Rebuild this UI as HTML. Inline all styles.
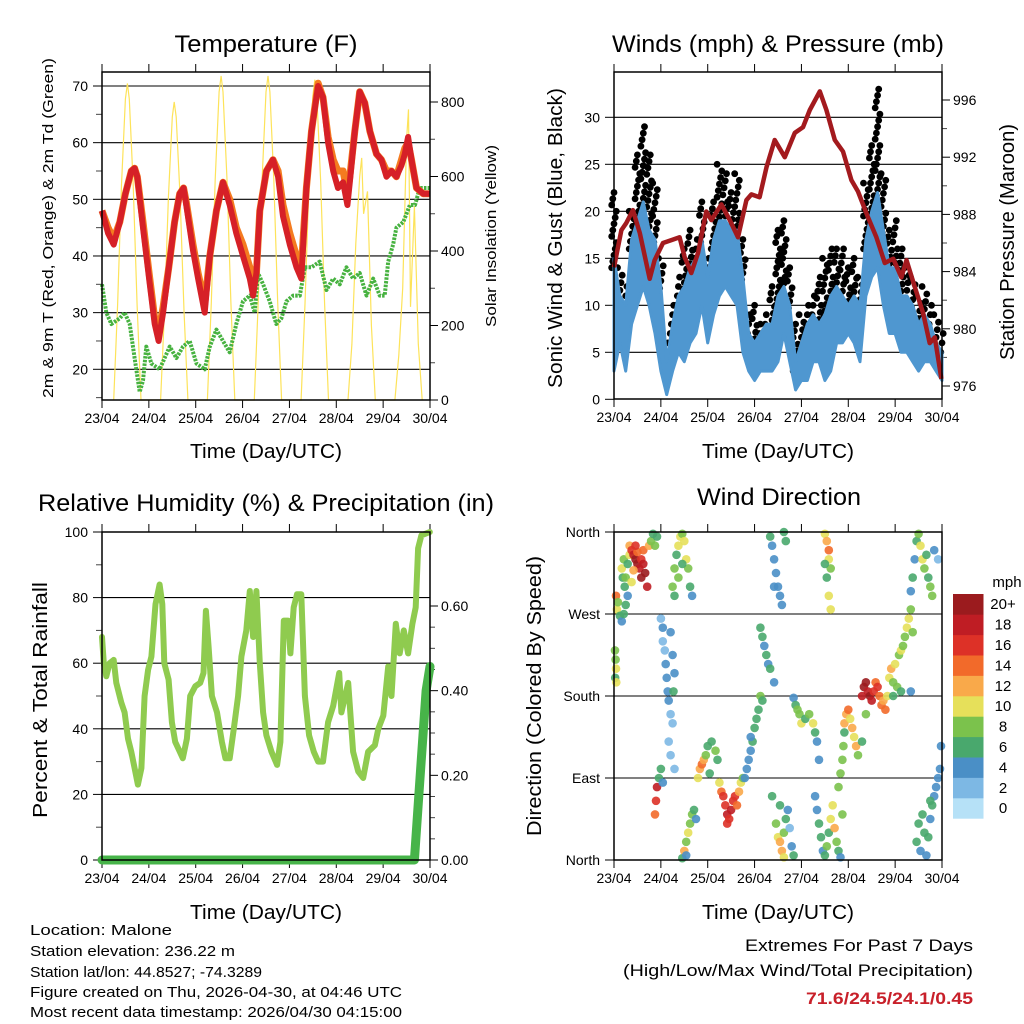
<!DOCTYPE html>
<html><head><meta charset="utf-8"><title>Malone station charts</title>
<style>
html,body{margin:0;padding:0;background:#fff;}
svg{display:block;font-family:"Liberation Sans",Arial,sans-serif;}
</style></head>
<body>
<svg id="root" xmlns="http://www.w3.org/2000/svg" width="1024" height="1024" viewBox="0 0 1024 1024">
<rect x="0" y="0" width="1024" height="1024" fill="#fff"/>
<!-- titles -->
<text x="266" y="52" font-size="24" text-anchor="middle" textLength="183" lengthAdjust="spacingAndGlyphs">Temperature (F)</text>
<text x="778" y="52" font-size="24" text-anchor="middle" textLength="332" lengthAdjust="spacingAndGlyphs">Winds (mph) &amp; Pressure (mb)</text>
<text x="266" y="511" font-size="24" text-anchor="middle" textLength="456" lengthAdjust="spacingAndGlyphs">Relative Humidity (%) &amp; Precipitation (in)</text>
<text x="779" y="505" font-size="24" text-anchor="middle" textLength="164" lengthAdjust="spacingAndGlyphs">Wind Direction</text>
<!-- x axis titles -->
<text x="266" y="458" font-size="20" text-anchor="middle" textLength="152" lengthAdjust="spacingAndGlyphs">Time (Day/UTC)</text>
<text x="778" y="458" font-size="20" text-anchor="middle" textLength="152" lengthAdjust="spacingAndGlyphs">Time (Day/UTC)</text>
<text x="266" y="919" font-size="20" text-anchor="middle" textLength="152" lengthAdjust="spacingAndGlyphs">Time (Day/UTC)</text>
<text x="778" y="919" font-size="20" text-anchor="middle" textLength="152" lengthAdjust="spacingAndGlyphs">Time (Day/UTC)</text>
<!-- y axis titles -->
<text transform="translate(53,228) rotate(-90)" font-size="15" text-anchor="middle" textLength="340" lengthAdjust="spacingAndGlyphs">2m &amp; 9m T (Red, Orange) &amp; 2m Td (Green)</text>
<text transform="translate(496,236) rotate(-90)" font-size="15" text-anchor="middle" textLength="182" lengthAdjust="spacingAndGlyphs">Solar Insolation (Yellow)</text>
<text transform="translate(562,238) rotate(-90)" font-size="20" text-anchor="middle" textLength="300" lengthAdjust="spacingAndGlyphs">Sonic Wind &amp; Gust (Blue, Black)</text>
<text transform="translate(1014,242) rotate(-90)" font-size="20" text-anchor="middle" textLength="236" lengthAdjust="spacingAndGlyphs">Station Pressure (Maroon)</text>
<text transform="translate(47,700) rotate(-90)" font-size="20" text-anchor="middle" textLength="236" lengthAdjust="spacingAndGlyphs">Percent &amp; Total Rainfall</text>
<text transform="translate(541,696) rotate(-90)" font-size="20" text-anchor="middle" textLength="280" lengthAdjust="spacingAndGlyphs">Direction (Colored By Speed)</text>
<!-- footer -->
<g font-size="15">
<text x="30" y="935" textLength="142" lengthAdjust="spacingAndGlyphs">Location: Malone</text>
<text x="30" y="956" textLength="205" lengthAdjust="spacingAndGlyphs">Station elevation: 236.22 m</text>
<text x="30" y="977" textLength="232" lengthAdjust="spacingAndGlyphs">Station lat/lon: 44.8527; -74.3289</text>
<text x="30" y="997" textLength="372" lengthAdjust="spacingAndGlyphs">Figure created on Thu, 2026-04-30, at 04:46 UTC</text>
<text x="30" y="1017" textLength="372" lengthAdjust="spacingAndGlyphs">Most recent data timestamp: 2026/04/30 04:15:00</text>
</g>
<g font-size="17" text-anchor="end">
<text x="973" y="951" textLength="228" lengthAdjust="spacingAndGlyphs">Extremes For Past 7 Days</text>
<text x="973" y="976" textLength="350" lengthAdjust="spacingAndGlyphs">(High/Low/Max Wind/Total Precipitation)</text>
<text x="973" y="1004" font-weight="bold" fill="#c8202a" textLength="167" lengthAdjust="spacingAndGlyphs">71.6/24.5/24.1/0.45</text>
</g>
<g id="charts"></g>
</svg>
<script>
// ---------- DATA ----------
const dayLabels = ["23/04","24/04","25/04","26/04","27/04","28/04","29/04","30/04"];
const tempTicks = [20,30,40,50,60,70];
const solarTicks = [0,200,400,600,800];
const windTicks = [0,5,10,15,20,25,30];
const presTicks = [976,980,984,988,992,996];
const rhTicks = [0,20,40,60,80,100];
const precipTicks = [0.00,0.20,0.40,0.60];
const dirTicks = [0,90,180,270,360];
const dirNames = ["North","East","South","West","North"];

const tempT = [0,3.1,6,9.1,12,15,16.7,18.1,21,24.1,27,29,31.3,34.2,37.2,39.8,41.8,43.2,46.6,49.2,52.6,55.2,58.6,62,65.4,68.8,72.2,75.7,77.4,79.1,80.8,84.2,87.6,90.2,92.7,96.2,99.6,102.1,104.7,107.3,110.7,113.2,115.8,118.4,120.9,123.5,125.7,126.9,129.5,132,134.6,137.2,140.6,143.1,145.7,148.3,150.8,153.4,155.1,156.8,158.5,161.1,164.5,167.9];
const temp2m = [48,44,42,46,51,55,55.5,54,45,36,28,25,30,38,46,51,52,49,41,36,30,40,48,53,49,44,40,36,33,37,48,55,57,54,47,42,38,36,52,62,70,68,60,55,52,53,49,53,62,69,67,62,58,57,54,55,54,56,58,61,57,52,51,51];
const temp9m = [48,45,43,46,51,55,55.5,54,46,37,29,26.5,31,38,46,51,52,49.5,42,37,31.5,40,48,53,50,45,42,38,35,37,48,55,57,55,49,44,40,38,52,62,70.5,68,61,57,55,55,51,54,62,69,67,62,58,57,55,55,54,57,59,60,57,52,51,51];
const dewT = [0,2.2,4.8,9.1,11.6,14.2,16.7,19.3,21,22.7,25.3,29.5,34.7,38.1,41.5,44.9,48.4,52.6,55.2,58.6,62,65.4,68.8,72.2,75.7,78.2,79.9,82.5,85.9,89.3,91.9,94.5,97.9,101.3,103.9,107.3,111.5,115,118.4,121.8,125.2,128.6,132,135.5,138.9,142.3,144.8,146.6,149.1,150.8,154.3,157.7,160.3,162.8,167.9];
const dewV = [35,30,28,29,30,28,22,16,18,24,21,20,24,22,24,25,21,20,24,27,25,23,28,32,33,30,37,35,32,28,29,32,33,33,38,38,39,34,36,35,38,36,37,33,36,33,33,39,42,45,46,49,49,52,52];
const solarT = [6,8,10,12,13,14,16,18,20, 30,32,34,36,37,38,40,42,44, 54,56,58,60,61,62,64,66,68, 78,80,82,84,85,86,88,90,92, 102,104,106,108,109,110,112,114,116, 126,128,130,132,133,134,136,138,140, 150,152,154,156,157,158,160,162,164];
const solarV = [0,255,578,808,850,808,578,255,0, 0,240,544,760,800,760,544,240,0, 0,261,592,827,870,827,592,261,0, 0,261,592,827,870,827,592,261,0, 0,258,585,817,860,817,585,258,0, 0,150,420,600,650,500,560,200,0, 0,120,300,700,780,250,520,150,0];

const windT = [0,3,6,9,12,15,18,21,24,27,30,33,36,39,42,45,48,51,54,57,60,63,66,69,72,75,78,81,84,87,90,93,96,99,102,105,108,111,114,117,120,123,126,129,132,135,138,141,144,147,150,153,156,159,162,165,168];
const windLo = [3,6,3,8,10,12,10,7,3,0.5,3,5,4,6,7,10,6,9,11,12,11,10,5,3,2,3,3,3,4,7,4,1,2,2,4,4,2,3,6,6,7,6,4,11,13,14,10,7,7,5,5,4,3,4,4,3,2];
const windHi = [15,11,10,17,19,21,18,17,12,4,8,11,12,14,15,17,13,17,19,19,18,18,13,7,6,7,8,8,11,12,10,4,6,8,9,8,9,11,12,11,10,11,10,17,20,22,18,14,14,11,11,10,8,9,8,6,5];
const gustHi = [22,14,12,20,26,29,26,23,15,6,10,13,16,18,17,21,15,21,25,24,22,24,17,9,10,8,9,12,18,19,14,8,9,10,11,13,15,16,16,16,14,15,13,23,27,33,24,18,19,16,14,13,11,12,10,9,7];
const presT = [0,3.8,6.3,9.7,13.2,18.3,20.8,25.1,29.4,33.6,36.2,39.6,43,47.3,49.9,55,59.3,63.5,67.8,70.4,74.6,78.1,82.3,87.5,92.6,96.8,100.3,105.4,108.8,113.1,117.3,121.6,125,130.1,134.4,138.7,143,147.2,149.8,154.1,158.3,161.7,164.3,167.7];
const presV = [984.3,986.9,987.4,988.3,986.7,983.5,984.8,986,986.2,986.4,985,983.9,985.3,988.2,987.6,988.7,987.6,986.4,989,989.4,989.2,991.3,993.2,992,993.7,994.1,995.3,996.6,995.3,993.2,992.4,990.4,989.6,987.8,986.4,984.6,984.9,983.6,984.8,982.9,981.1,979,979.4,976.5];

const rhT = [0,0.9,2.2,3.9,6,7.3,9.9,11.6,13.3,15,16.7,18.4,20.2,21.8,23.6,25.3,27.4,29.5,30.9,31.9,34.1,35.8,37.5,39.1,41.4,43.5,45.2,47.8,50.3,52,53.2,54.6,56.3,58.9,61.4,63.2,65.4,67.5,69.7,71.4,73.9,75.7,77.4,79.1,80.8,82.5,84.2,86.8,89.7,91.4,93.1,95.3,96.5,98.2,99.9,102.1,103.9,106.1,108.5,110.7,113.2,115.8,118.4,121.5,122.6,126.1,128.6,131.2,133.8,136.3,139.8,141.5,144.1,146.6,148.3,150.5,152.5,154.6,156.8,159,160.7,161.9,163.6,167.9];
const rhV = [68,60,56,60,61,54,48,45,37,33,28,23,28,50,58,62,78,84,78,60,55,42,36,34,31,37,50,53,54,57,76,65,50,45,36,31,31,40,50,62,70,82,68,82,60,45,38,33,29,36,73,73,63,77,81,81,50,38,33,30,30,42,47,57,45,54,33,27,25,33,35,40,44,59,50,72,63,70,63,72,77,95,99,100];
const precipT = [0,160,163,166,168];
const precipV = [0,0,0.2,0.4,0.457];

// wind direction observations: hour, direction (deg), speed (mph)
const dirHour = [0.5,0.8,1,0.6,1.2, 1,1.5,2,3,4,5,6,7,5.5,4.5, 4,5,7,8,6, 8,9,10,11,12,13,14,15,16,17,12,10,14,11,15,9,18, 19,20,21,22,
24,25,25,26,26.5,27,27.5,28,29,30,29,30,31,30.5,28,29,31, 21,21.5,22,23,24,25, 30,31,32,33,34,35,36,37,38,39,40,33,35,31,
35,36,37,38,39,40,41,42,37, 43,44,45,46,47,48,50,52,53,49, 54,55,56,57,58,59,60,61,62,63,64,65,66,58,
67,68,69,70,71,72,73,74,75,76,70, 75,76,77,78,79,80,82, 80,81,82,83,84,85,86,87,88,82,
81,83,84,85,86,87,88,89,90,91,92,85,87, 92,93,94,95,96,98,100,102,103,104,105, 108,109,110,110,111,109,110,111,108,
103,104,105,106,107,108,109,110,111,112,113,114,115,116,117, 115,116,117,117.5,118, 118,119,120,121,122,123,124,125,127,129,
127,128,129,130,131,132,133,134,135,136,137,138,139,140, 141,142,143,144,145,146,147,148,149,150,151,152,153,143,147,152,
152,153,154,155,156,157,158,159,160,161,162,163,164,166, 155,156,157,158,159,160,161,162,163,164,165,166,167,167.5,162];
const dirDeg = [230,220,210,200,195, 290,275,283,268,262,270,280,290,300,310, 320,330,325,335,310, 345,340,335,330,325,320,330,340,315,300,338,318,310,345,325,305,345, 350,358,345,355,
265,255,240,230,215,200,185,175,160,150,250,225,205,185,130,115,100, 50,65,80,90,100,85, 300,320,335,345,355,358,350,330,320,300,290,310,325,290,
2,10,20,30,40,50,55,45,5, 90,100,105,110,115,125,130,120,110,95, 85,75,70,60,50,45,55,65,70,60,75,85,90,40,
90,100,110,120,130,145,155,165,180,175,135, 255,245,235,225,215,210,195, 355,345,330,315,300,290,280,360,350,300,
70,40,25,20,10,30,45,55,35,15,5,60,3, 178,170,165,160,150,155,160,150,140,130,110, 358,350,340,330,320,310,290,275,325,
70,55,40,25,10,5,15,30,45,60,35,20,10,3,50, 80,95,110,125,140, 150,160,165,155,145,135,125,115,130,160,
180,190,195,185,180,175,185,195,190,180,170,175,165,180, 200,210,195,215,190,225,230,235,245,255,265,275,250,180,185,185,
295,310,330,350,358,345,330,320,335,310,300,290,340,330, 20,40,10,50,30,5,25,45,60,70,80,90,100,125,65];
const dirSpeed = [7,8,10,6,9, 14,10,8,6,4,6,5,4,6,5, 10,8,6,9,7, 12,16,18,20,20,18,16,14,20,18,14,12,20,16,18,10,12, 8,6,8,6,
2,3,2,2,3,4,3,4,2,2,4,4,4,5,2,2,2, 14,16,18,6,6,4, 8,8,6,9,10,8,10,10,8,6,4,8,6,5,
6,12,8,10,8,8,6,4,4, 10,12,14,12,8,6,6,8,6,6, 10,14,16,16,18,16,18,16,16,14,12,10,8,16,
4,4,4,4,5,6,6,6,8,6,4, 6,6,4,6,4,6,4, 6,4,4,4,4,4,4,6,6,4,
6,8,10,12,12,8,6,4,2,4,6,6,10, 4,6,8,8,10,6,8,10,6,4,4, 10,12,14,10,8,6,10,10,6,
4,4,6,6,4,6,8,6,10,10,12,8,6,4,8, 8,8,8,8,6, 12,12,14,10,12,10,12,8,6,8,
18,20,20,18,20,18,16,14,16,14,14,12,14,10, 10,12,8,10,8,8,10,8,8,10,10,8,8,6,6,4,
4,6,4,6,8,10,10,8,6,6,8,8,4,2, 6,6,4,6,6,4,6,4,6,4,4,4,4,4,6];
const speedLabels = ["0","2","4","6","8","10","12","14","16","18","20+"];
const speedColors = ["#b6e1f7","#7db8e4","#4a8fc6","#49a86d","#7bc24c","#e6e05a","#f9a94a","#f26a2a","#dd3127","#bf1d24","#9b1b1e"];

// ---------- DRAW ----------
const NS = "http://www.w3.org/2000/svg";
const charts = document.getElementById("charts");
function mk(tag, attrs, parent) {
  const el = document.createElementNS(NS, tag);
  for (const k in attrs) el.setAttribute(k, attrs[k]);
  (parent || charts).appendChild(el);
  return el;
}
const P1 = {L:102,R:430,T:72,B:400}, P2 = {L:614,R:942,T:72,B:399}, P3 = {L:102,R:430,T:532,B:860}, P4 = {L:614,R:942,T:532,B:860};
function xOf(P, h) { return P.L + h / 168 * (P.R - P.L); }
function linScale(d0, d1, r0, r1) { return v => r0 + (v - d0) / (d1 - d0) * (r1 - r0); }
const yTemp = linScale(20, 70, 369.3, 86);
const ySolar = linScale(0, 800, 400, 102);
const yWind = linScale(0, 30, 399.3, 117.3);
const yPres = linScale(976, 996, 386, 100);
const yRH = linScale(0, 100, 860, 532);
const yPrecip = linScale(0, 0.6, 860, 606);
const yDir = linScale(0, 360, 860, 532);

function panelGroup(name) {
  const g = mk("g", {});
  
  
  return g;
}
function gridAndAxes(P, g, leftTicks, leftFmt, yL, rightTicks, rightFmt, yR, leftMinor, rightMinor) {
  leftTicks.forEach(v => {
    const y = yL(v);
    if (y > P.T + 1 && y < P.B - 1) {
      const gl = mk("line", {x1:P.L, x2:P.R, y1:y, y2:y, stroke:"#000", "stroke-width":1.1}, g);
      
      
    }
  });
  dayLabels.forEach((lab, i) => {
    const x = xOf(P, i * 24);
    mk("line", {x1:x, x2:x, y1:P.B, y2:P.B + 8, stroke:"#000", "stroke-width":1}, g);
    mk("line", {x1:x, x2:x, y1:P.T, y2:P.T - 8, stroke:"#000", "stroke-width":1}, g);
    const t = mk("text", {x:x, y:P.B + 23, "font-size":14, "text-anchor":"middle"}, g);
    
    
    t.textContent = lab;
  });
  leftTicks.forEach((v, i) => {
    const y = yL(v);
    mk("line", {x1:P.L - 9, x2:P.L, y1:y, y2:y, stroke:"#000", "stroke-width":1}, g);
    const t = mk("text", {x:P.L - 14, y:y + 5, "font-size":14, "text-anchor":"end"}, g);
    
    
    t.textContent = leftFmt(v, i);
  });
  (leftMinor || []).forEach(v => {
    const y = yL(v);
    mk("line", {x1:P.L - 6, x2:P.L, y1:y, y2:y, stroke:"#444", "stroke-width":1}, g);
  });
  if (rightTicks) {
    rightTicks.forEach(v => {
      const y = yR(v);
      mk("line", {x1:P.R, x2:P.R + 8, y1:y, y2:y, stroke:"#000", "stroke-width":1}, g);
      const t = mk("text", {x:P.R + 11, y:y + 5, "font-size":14, "text-anchor":"start"}, g);
      
      
      t.textContent = rightFmt(v);
    });
    (rightMinor || []).forEach(v => {
      const y = yR(v);
      mk("line", {x1:P.R, x2:P.R + 5, y1:y, y2:y, stroke:"#444", "stroke-width":1}, g);
    });
  }
}
function frame(P, g) {
  const r = mk("rect", {x:P.L, y:P.T, width:P.R - P.L, height:P.B - P.T, fill:"none", stroke:"#000", "stroke-width":1.5}, g);
  
  
}
function pathFrom(P, ts, vs, yfn) {
  return ts.map((t, i) => (i ? "L" : "M") + xOf(P, t).toFixed(1) + " " + yfn(vs[i]).toFixed(1)).join(" ");
}

// ---- Panel 1: temperature ----
(function(){
  const g = panelGroup('temperature-panel');
  gridAndAxes(P1, g, tempTicks, v => String(v), yTemp, solarTicks, v => String(v), ySolar,
    [15,25,35,45,55,65], [100,300,500,700]);
  const sol = mk("path", {d:pathFrom(P1, solarT, solarV, ySolar), fill:"none", stroke:"#fde35a", "stroke-width":1.2}, g);
  
  
  const dew = mk("path", {d:pathFrom(P1, dewT, dewV, yTemp), fill:"none", stroke:"#47b240", "stroke-width":4, "stroke-dasharray":"2.5 1.2", "stroke-linejoin":"round"}, g);
  
  
  const t9 = mk("path", {d:pathFrom(P1, tempT, temp9m, yTemp), fill:"none", stroke:"#f47b20", "stroke-width":7, "stroke-linejoin":"round"}, g);
  
  
  const t2 = mk("path", {d:pathFrom(P1, tempT, temp2m, yTemp), fill:"none", stroke:"#d62027", "stroke-width":6, "stroke-linejoin":"round"}, g);
  
  
  frame(P1, g);
})();

// ---- Panel 2: winds ----
(function(){
  const g = panelGroup('winds-panel');
  gridAndAxes(P2, g, windTicks, v => String(v), yWind, presTicks, v => String(v), yPres,
    [], [978,982,986,990,994]);
  // gust dots (behind band edge)
  const gg = mk("g", {fill:"#000"}, g);
  
  
  windT.forEach((t, i) => {
    const n = Math.max(2, Math.round((gustHi[i] - windHi[i]) / 0.6));
    for (let k = 0; k <= n; k++) {
      const v = windHi[i] - 1 + (gustHi[i] - windHi[i] + 1) * k / n;
      const off = ((k % 5) - 2) * 0.6;
      const c = mk("circle", {cx:xOf(P2, t + off).toFixed(1), cy:yWind(v).toFixed(1), r:3.4}, gg);
      
      
    }
  });
  // blue band
  let d = windT.map((t, i) => (i ? "L" : "M") + xOf(P2, t).toFixed(1) + " " + yWind(windHi[i]).toFixed(1)).join(" ");
  for (let i = windT.length - 1; i >= 0; i--) d += " L" + xOf(P2, windT[i]).toFixed(1) + " " + yWind(windLo[i]).toFixed(1);
  const band = mk("path", {d:d + " Z", fill:"#4f97d0", stroke:"#4f97d0", "stroke-width":3, "stroke-linejoin":"round"}, g);
  
  
  const pr = mk("path", {d:pathFrom(P2, presT, presV, yPres), fill:"none", stroke:"#a31a1e", "stroke-width":4.5, "stroke-linejoin":"round"}, g);
  
  
  frame(P2, g);
})();

// ---- Panel 3: humidity ----
(function(){
  const g = panelGroup('humidity-panel');
  gridAndAxes(P3, g, rhTicks, v => String(v), yRH, precipTicks, v => v.toFixed(2), yPrecip,
    [10,30,50,70,90], [0.1,0.3,0.5,0.05,0.15,0.25,0.35,0.45,0.55]);
  const rh = mk("path", {d:pathFrom(P3, rhT, rhV, yRH), fill:"none", stroke:"#8fcb4f", "stroke-width":6, "stroke-linejoin":"round", "stroke-linecap":"round"}, g);
  
  
  const pc = mk("path", {d:pathFrom(P3, precipT, precipV, yPrecip), fill:"none", stroke:"#47b449", "stroke-width":9, "stroke-linejoin":"round", "stroke-linecap":"round"}, g);
  
  
  frame(P3, g);
})();

// ---- Panel 4: wind direction ----
(function(){
  const g = panelGroup('wind-direction-panel');
  gridAndAxes(P4, g, dirTicks, (v, i) => dirNames[i], yDir, null, null, null, [], []);
  const sg = mk("g", {}, g);
  
  
  dirHour.forEach((h, i) => {
    const idx = Math.min(10, Math.round(dirSpeed[i] / 2));
    const c = mk("circle", {cx:xOf(P4, h).toFixed(1), cy:yDir(dirDeg[i]).toFixed(1), r:4.3, fill:speedColors[idx], "fill-opacity":0.9}, sg);
    
    
  });
  frame(P4, g);
  const cb = mk("g", {}, g);
  
  
  const ut = mk("text", {x:1007, y:587, "font-size":15, "text-anchor":"middle"}, cb);
  
  
  ut.textContent = "mph";
  const boxH = 20.4, top = 594;
  speedLabels.forEach((lab, i) => {
    const j = speedLabels.length - 1 - i;
    const y = top + j * boxH;
    const r = mk("rect", {x:953, y:y, width:30.5, height:boxH + 0.3, fill:speedColors[i]}, cb);
    
    
    const t = mk("text", {x:1003, y:y + boxH / 2 + 5, "font-size":15, "text-anchor":"middle"}, cb);
    
    
    t.textContent = lab;
  });
})();
</script>
</body></html>
